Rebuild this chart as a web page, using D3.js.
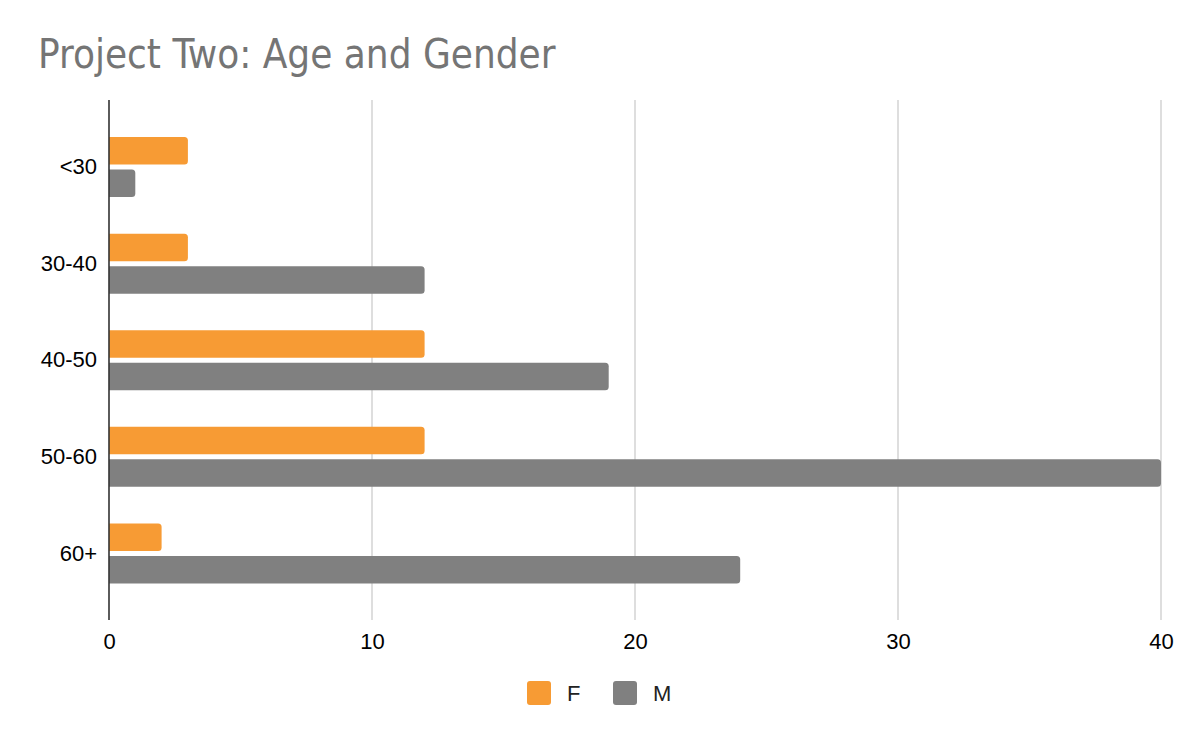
<!DOCTYPE html>
<html>
<head>
<meta charset="utf-8">
<script src="https://cdn.jsdelivr.net/npm/d3@7"></script>
<style>
  body { margin: 0; background: #fff; }
  svg { display: block; }
</style>
</head>
<body>
<div id="box-div"></div>
<script>
// - data
const ageGroups = ['<30', '30-40', '40-50', '50-60', '60+']
const genders = ['F', 'M']
const femaleCounts = [3, 3, 12, 12, 2]
const maleCounts = [1, 12, 19, 40, 24]
const xTicks = [0, 10, 20, 30, 40]

const colors = { F: '#f79b34', M: '#808080' }

const dms = { width: 1200, height: 742 }
const plot = { left: 109, right: 1161, top: 100, bottom: 620 }

const svg = d3.select('#box-div')
  .append('svg')
  .attr('width', dms.width)
  .attr('height', dms.height)

// title
svg.append('text')
  .attr('x', 38)
  .attr('y', 68)
  .attr('fill', '#757575')
  .style('font-family', '"DejaVu Sans Condensed", "DejaVu Sans", sans-serif')
  .style('font-size', '40px')
  .text('Project Two: Age and Gender')

// scales
const xScale = d3.scaleLinear()
  .domain([0, 40])
  .range([plot.left, plot.right])

const yScale = d3.scaleBand()
  .domain(ageGroups)
  .range([118.7, 601.8])

const innerScale = d3.scaleBand()
  .domain(genders)
  .range([-30, 30])
  .paddingInner(0.154)

// grid
svg.append('g')
  .selectAll('line')
  .data(xTicks.filter(d => d > 0))
  .join('line')
  .attr('x1', d => xScale(d))
  .attr('x2', d => xScale(d))
  .attr('y1', plot.top)
  .attr('y2', plot.bottom)
  .attr('stroke', '#cccccc')
  .attr('stroke-width', 1.3)

// bars
const rows = ageGroups.map((g, i) => ({ group: g, F: femaleCounts[i], M: maleCounts[i] }))

function barPath(x0, x1, y, h, r) {
  r = Math.min(r, (x1 - x0) / 2)
  return `M${x0},${y}H${x1 - r}Q${x1},${y} ${x1},${y + r}V${y + h - r}Q${x1},${y + h} ${x1 - r},${y + h}H${x0}Z`
}

svg.append('g')
  .selectAll('g')
  .data(rows)
  .join('g')
  .attr('transform', d => `translate(0,${yScale(d.group) + yScale.bandwidth() / 2})`)
  .selectAll('path')
  .data(d => genders.map(k => ({ key: k, value: d[k] })))
  .join('path')
  .attr('d', d => barPath(xScale(0), xScale(d.value), innerScale(d.key), innerScale.bandwidth(), 3.5))
  .attr('fill', d => colors[d.key])

// axes
const xAxis = svg.append('g')
  .attr('transform', `translate(0,${plot.bottom})`)
  .call(d3.axisBottom(xScale).tickValues(xTicks).tickSize(0).tickPadding(13))
xAxis.select('.domain').remove()

const yAxis = svg.append('g')
  .attr('transform', `translate(${plot.left},0)`)
  .call(d3.axisLeft(yScale).tickSize(0).tickPadding(12))
yAxis.select('.domain').remove()

svg.selectAll('.tick text')
  .attr('fill', '#000')
  .style('font-family', '"Liberation Sans", Arial, sans-serif')
  .style('font-size', '22px')

svg.append('line')
  .attr('x1', xScale(0))
  .attr('x2', xScale(0))
  .attr('y1', plot.top)
  .attr('y2', plot.bottom)
  .attr('stroke', '#333')
  .attr('stroke-width', 1.6)

// legend
const legend = svg.append('g')
  .selectAll('g')
  .data(genders)
  .join('g')
  .attr('transform', (d, i) => `translate(${527 + i * 86},681)`)

legend.append('rect')
  .attr('width', 24)
  .attr('height', 24)
  .attr('rx', 3)
  .attr('fill', d => colors[d])

legend.append('text')
  .attr('x', 40)
  .attr('y', 20)
  .attr('fill', '#222')
  .style('font-family', '"Liberation Sans", Arial, sans-serif')
  .style('font-size', '22px')
  .text(d => d)
</script>
</body>
</html>
